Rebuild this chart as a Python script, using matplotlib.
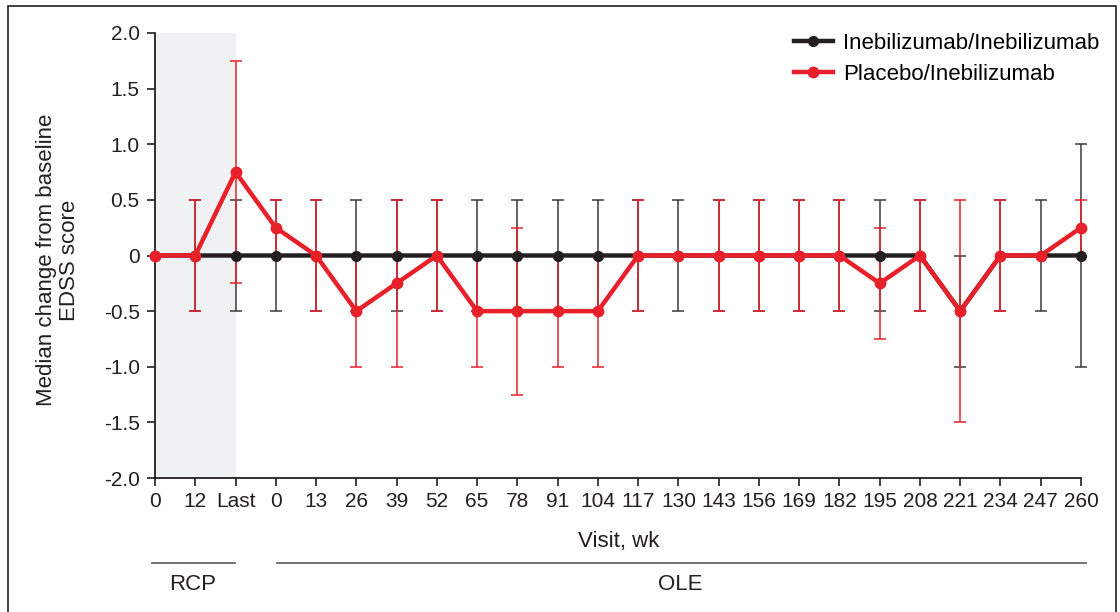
import matplotlib
matplotlib.use("Agg")
import matplotlib.pyplot as plt
from matplotlib.patches import Rectangle
from matplotlib.lines import Line2D
import numpy as np

plt.rcParams['font.family'] = ['Liberation Sans', 'DejaVu Sans']

visit_labels = ['0', '12', 'Last', '0', '13', '26', '39', '52', '65', '78', '91', '104',
                '117', '130', '143', '156', '169', '182', '195', '208', '221', '234', '247', '260']

ine_median = [0, 0, 0, 0, 0, 0, 0, 0, 0, 0, 0, 0,
              0, 0, 0, 0, 0, 0, 0, 0, -0.5, 0, 0, 0]
ine_q1 = [0, -0.5, -0.5, -0.5, -0.5, -0.5, -0.5, -0.5, -0.5, -0.5, -0.5, -0.5,
          -0.5, -0.5, -0.5, -0.5, -0.5, -0.5, -0.5, -0.5, -1.0, -0.5, -0.5, -1.0]
ine_q3 = [0, 0.5, 0.5, 0.5, 0.5, 0.5, 0.5, 0.5, 0.5, 0.5, 0.5, 0.5,
          0.5, 0.5, 0.5, 0.5, 0.5, 0.5, 0.5, 0.5, 0, 0.5, 0.5, 1.0]

pla_median = [0, 0, 0.75, 0.25, 0, -0.5, -0.25, 0, -0.5, -0.5, -0.5, -0.5,
              0, 0, 0, 0, 0, 0, -0.25, 0, -0.5, 0, 0, 0.25]
pla_q1 = [0, -0.5, -0.25, 0, -0.5, -1.0, -1.0, -0.5, -1.0, -1.25, -1.0, -1.0,
          -0.5, 0, -0.5, -0.5, -0.5, -0.5, -0.75, -0.5, -1.5, -0.5, 0, 0]
pla_q3 = [0, 0.5, 1.75, 0.5, 0.5, 0, 0.5, 0.5, 0, 0.25, 0, 0,
          0.5, 0, 0.5, 0.5, 0.5, 0.5, 0.25, 0.5, 0.5, 0.5, 0, 0.5]

BLACK = '#231f20'
RED = '#e8202a'
FS_TICK = 15
FS = 16

fig = plt.figure(figsize=(11.2, 6.12), dpi=100)
W, H = 1120, 612
ax = fig.add_axes([155/W, 1 - 478/H, (1081 - 155)/W, (478 - 33)/H])

x = np.arange(len(visit_labels))

# shaded RCP region
ax.axvspan(0, 2, color='#f0f1f3', zorder=0, lw=0)

im = np.array(ine_median); pm = np.array(pla_median)
ine_err = [im - np.array(ine_q1), np.array(ine_q3) - im]
pla_err = [pm - np.array(pla_q1), np.array(pla_q3) - pm]

eb1 = ax.errorbar(x, im, yerr=ine_err, fmt='none', ecolor='#3a3a3a', elinewidth=1.1,
                  capsize=4, capthick=1.1, zorder=2)
eb2 = ax.errorbar(x, pm, yerr=pla_err, fmt='none', ecolor=RED, elinewidth=1.1,
                  capsize=4, capthick=1.1, zorder=2.5)
for eb in (eb1, eb2):
    for c in eb.get_children():
        c.set_clip_on(False)

ax.plot(x, im, color=BLACK, lw=3.2, marker='o', ms=7, zorder=3, clip_on=False,
        label='Inebilizumab/Inebilizumab')
ax.plot(x, pm, color=RED, lw=3.2, marker='o', ms=7.5, zorder=4, clip_on=False,
        label='Placebo/Inebilizumab')

ax.set_xlim(0, len(visit_labels) - 1)
ax.set_ylim(-2.0, 2.0)
ax.set_xticks(x)
ax.set_xticklabels(visit_labels, fontsize=FS_TICK, color=BLACK)
yt = np.arange(-2.0, 2.01, 0.5)
ax.set_yticks(yt)
ax.set_yticklabels(['0' if abs(v) < 1e-9 else f'{v:.1f}' for v in yt], fontsize=FS_TICK, color=BLACK)
ax.tick_params(axis='x', length=6, width=1.2, pad=4, colors=BLACK)
ax.tick_params(axis='y', length=6, width=1.2, pad=5, colors=BLACK)
for s in ('top', 'right'):
    ax.spines[s].set_visible(False)
for s in ('left', 'bottom'):
    ax.spines[s].set_linewidth(1.3)
    ax.spines[s].set_color(BLACK)

fig.text(58/W, 1 - 260/H, 'Median change from baseline\nEDSS score', rotation=90,
         ha='center', va='center', multialignment='center', fontsize=FS, color=BLACK,
         linespacing=1.1)
fig.text(619/W, 1 - 541/H, 'Visit, wk', ha='center', va='center', fontsize=FS, color=BLACK)

leg = fig.legend(loc='upper left', bbox_to_anchor=(794/W, 1 - 33/H), frameon=False, fontsize=FS,
                 handlelength=1.75, handletextpad=0.45, labelspacing=0.45,
                 borderpad=0, borderaxespad=0)

# RCP / OLE period bars
fig.add_artist(Line2D([152/W, 235/W], [1 - 563/H, 1 - 563/H], color='#666666', lw=1.3))
fig.add_artist(Line2D([277/W, 1086/W], [1 - 563/H, 1 - 563/H], color='#666666', lw=1.3))
fig.text(193/W, 1 - 585/H, 'RCP', ha='center', va='center', fontsize=FS, color=BLACK)
fig.text(680/W, 1 - 585/H, 'OLE', ha='center', va='center', fontsize=FS, color=BLACK)

# outer frame
fig.add_artist(Rectangle((8/W, -0.02), (1116 - 8)/W, 1 - 6/H + 0.02,
                         fill=False, edgecolor=BLACK, lw=1.2, transform=fig.transFigure))

fig.savefig('out.png', dpi=100)
